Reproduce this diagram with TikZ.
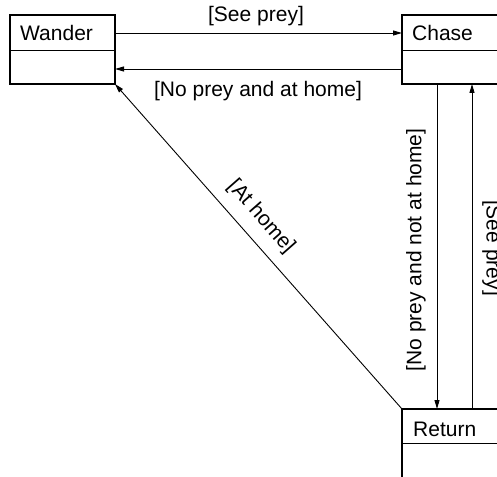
\documentclass[tikz,border=0pt]{standalone}
\usepackage{fontspec}
\setmainfont{Liberation Sans}
\usetikzlibrary{arrows.meta}
\begin{document}
\begin{tikzpicture}[x=1pt,y=-1pt,
  statebox/.style={draw, line width=2.6pt, outer sep=0pt, inner sep=0pt, minimum width=#1},
  statebox/.default=105pt,
  divider/.style={line width=0.9pt},
  txt/.style={font=\fontsize{21}{25}\selectfont, inner sep=0pt},
  arr/.style={line width=0.9pt, -{Triangle[length=9pt,width=5pt]}}]
\useasboundingbox (0,0) rectangle (497,476);
\clip (0,0) rectangle (497,476);
% state boxes
\node[statebox, minimum height=69pt] (W) at (62.5,49.5) {};
\node[statebox=118pt, minimum height=69pt] (C) at (461,49.5) {};
\node[statebox=118pt, minimum height=82pt] (R) at (461,450) {};
% dividers
\coordinate (wd) at (0,50);
\coordinate (rd) at (0,443);
\draw[divider] (W.west |- wd) -- (W.east |- wd);
\draw[divider] (C.west |- wd) -- (C.east |- wd);
\draw[divider] (R.west |- rd) -- (R.east |- rd);
% titles
\node[txt, anchor=base west] (wt) at (20,41) {Wander};
\node[txt, anchor=base west] (ct) at (412,41) {Chase};
\node[txt, anchor=base west] (rt) at (413,436) {Return};
% connectors
\draw[arr] ([yshift=16.5pt]W.east) -- ([yshift=16.5pt]C.west);
\draw[arr] ([yshift=-19.5pt]C.west) -- ([yshift=-19.5pt]W.east);
\draw[arr] ([xshift=-24pt]C.south) -- ([xshift=-24pt]R.north);
\draw[arr] ([xshift=11pt]R.north) -- ([xshift=11pt]C.north |- C.south);
\draw[arr] (R.north west) -- (W.south east);
% labels
\node[txt, anchor=base] (l1) at (256,22) {[See prey]};
\node[txt, anchor=base] (l2) at (258,96) {[No prey and at home]};
\node[txt, rotate=90] (l3) at (416,250) {[No prey and not at home]};
\node[txt, rotate=-90] (l4) at (492,248) {[See prey]};
\node[txt, rotate=-48.6] (l5) at (261,217) {[At home]};
\end{tikzpicture}
\end{document}
